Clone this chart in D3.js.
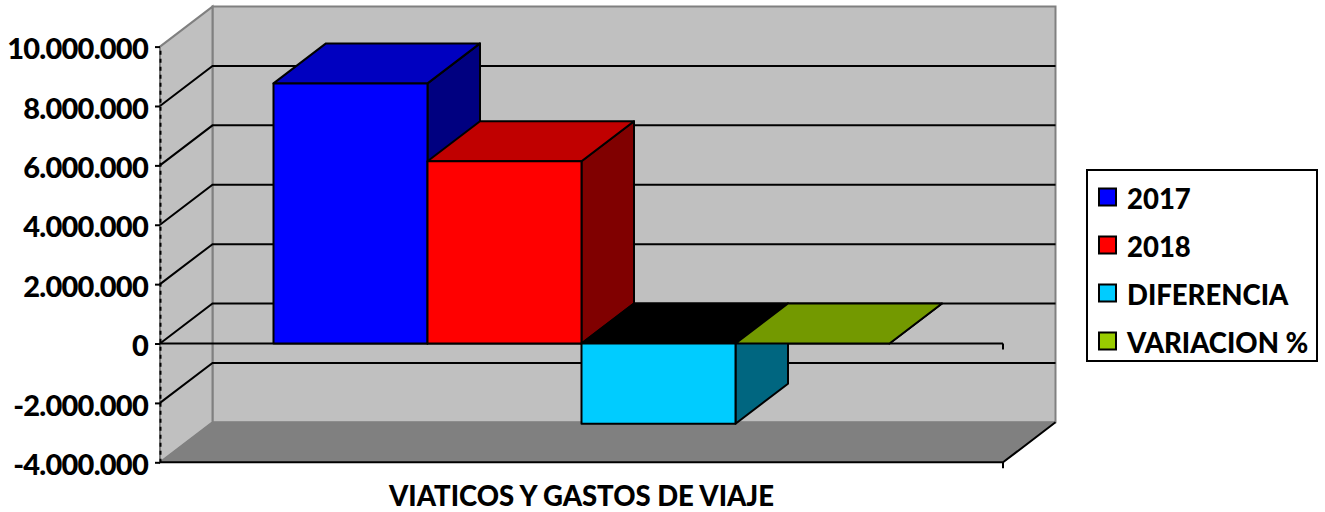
<!DOCTYPE html>
<html>
<head>
<meta charset="utf-8">
<script src="https://cdn.jsdelivr.net/npm/d3@7"></script>
<style>
  html, body { margin: 0; padding: 0; background: #fff; }
  text { font-family: Lato, "Open Sans", sans-serif; font-weight: 900; fill: #000; }
</style>
</head>
<body>
<div id="chart"></div>
<script>
// Data
var category = "VIATICOS Y GASTOS DE VIAJE";
var seriesNames = ["2017", "2018", "DIFERENCIA", "VARIACION %"];
var seriesValues = [8760000, 6140000, -2700000, 0];
var yTicks = [-4000000, -2000000, 0, 2000000, 4000000, 6000000, 8000000, 10000000];

// Face colours of each bar
var frontColors = ["#0000ff", "#ff0000", "#00ccff", "#99cc00"];
var topColors = ["#0000c0", "#c00000", "#000000", "#739900"];
var sideColors = ["#000080", "#800000", "#006680", "#4d6600"];

var width = 1325, height = 512;
var x0 = 160, x1 = 1003;          // front plane left / right
var depthX = 52.5, depthY = -40;  // 3D offset from front plane to back wall

var svg = d3.select("#chart").append("svg")
    .attr("width", width)
    .attr("height", height)
    .style("display", "block");

var y = d3.scaleLinear().domain([-4000000, 10000000]).range([462.3, 46.6]);
var x = d3.scaleBand().domain(seriesNames).range([x0, x1]).paddingInner(0).paddingOuter(0.737);

function poly(pts) { return pts.map(function(p) { return p.join(","); }).join(" "); }
function back(p) { return [p[0] + depthX, p[1] + depthY]; }

var yTop = y(10000000), yBot = y(-4000000), yZero = y(0);

// Walls
svg.append("polygon") // back wall
    .attr("points", poly([back([x0, yTop]), back([x1, yTop]), back([x1, yBot]), back([x0, yBot])]))
    .attr("fill", "#c0c0c0").attr("stroke", "#808080").attr("stroke-width", 2);
svg.append("polygon") // left wall
    .attr("points", poly([[x0, yTop], back([x0, yTop]), back([x0, yBot]), [x0, yBot]]))
    .attr("fill", "#c0c0c0").attr("stroke", "#808080").attr("stroke-width", 2);
svg.append("polygon") // floor
    .attr("points", poly([[x0, yBot], back([x0, yBot]), back([x1, yBot]), [x1, yBot]]))
    .attr("fill", "#808080").attr("stroke", "#808080").attr("stroke-width", 1);

// Gridlines across both walls
var gridTicks = yTicks.filter(function(t) { return t > -4000000 && t < 10000000; });
svg.append("g").selectAll("polyline")
    .data(gridTicks)
    .enter().append("polyline")
    .attr("points", function(d) { return poly([[x0, y(d)], back([x0, y(d)]), back([x1, y(d)])]); })
    .attr("fill", "none")
    .attr("stroke", "#000")
    .attr("stroke-width", 2);

// Floor front edge and its right side, zero line
svg.append("polyline")
    .attr("points", poly([[x0, yBot], [x1, yBot], back([x1, yBot])]))
    .attr("fill", "none").attr("stroke", "#000").attr("stroke-width", 2);
svg.append("line").attr("x1", x1).attr("x2", x1).attr("y1", yBot).attr("y2", yBot + 6)
    .attr("stroke", "#000").attr("stroke-width", 2);
svg.append("line").attr("x1", x0).attr("x2", x1).attr("y1", yZero).attr("y2", yZero)
    .attr("stroke", "#000").attr("stroke-width", 2);
svg.append("line").attr("x1", x1).attr("x2", x1).attr("y1", yZero).attr("y2", yZero + 6)
    .attr("stroke", "#000").attr("stroke-width", 2);

// Bars: front, side and top faces
var bars = svg.append("g").selectAll("g")
    .data(seriesValues)
    .enter().append("g")
    .attr("stroke", "#000")
    .attr("stroke-width", 2)
    .attr("stroke-linejoin", "round");

function barCorners(d, i) {
  var l = x(seriesNames[i]), r = l + x.bandwidth();
  return { l: l, r: r, t: y(Math.max(d, 0)), b: y(Math.min(d, 0)) };
}
bars.append("polygon") // side
    .attr("fill", function(d, i) { return sideColors[i]; })
    .attr("points", function(d, i) {
      var c = barCorners(d, i);
      return poly([[c.r, c.t], back([c.r, c.t]), back([c.r, c.b]), [c.r, c.b]]);
    });
bars.append("polygon") // top
    .attr("fill", function(d, i) { return topColors[i]; })
    .attr("points", function(d, i) {
      var c = barCorners(d, i);
      return poly([[c.l, c.t], back([c.l, c.t]), back([c.r, c.t]), [c.r, c.t]]);
    });
bars.append("rect") // front
    .attr("fill", function(d, i) { return frontColors[i]; })
    .attr("x", function(d, i) { return barCorners(d, i).l; })
    .attr("y", function(d, i) { return barCorners(d, i).t; })
    .attr("width", x.bandwidth())
    .attr("height", function(d, i) { var c = barCorners(d, i); return c.b - c.t; });

// Y axis with dotted thousands and a plain hyphen for negatives
var locale = d3.formatLocale({ decimal: ",", thousands: ".", grouping: [3], currency: ["", ""], minus: "-" });
var yAxis = d3.axisLeft(y).tickValues(yTicks).tickFormat(locale.format(",")).tickSize(5).tickSizeOuter(0).tickPadding(7);
var axisG = svg.append("g").attr("transform", "translate(" + x0 + ",0)").call(yAxis);
axisG.select(".domain").attr("stroke", "#000").attr("stroke-width", 2).attr("stroke-dasharray", "4 4");
axisG.selectAll(".tick line").attr("stroke", "#000").attr("stroke-width", 2);
axisG.selectAll(".tick text")
    .attr("font-size", 29)
    .attr("dy", "0.42em")
    .attr("letter-spacing", -0.75)
    .style("font-family", "Lato")
    .style("font-weight", 900)
    .attr("fill", "#000");

// Category label
svg.append("text")
    .attr("x", 581.5).attr("y", 506)
    .attr("text-anchor", "middle")
    .attr("font-size", 27.5)
    .text(category);

// Legend
var legend = svg.append("g");
legend.append("rect")
    .attr("x", 1087).attr("y", 170).attr("width", 230).attr("height", 191)
    .attr("fill", "#fff").attr("stroke", "#000").attr("stroke-width", 2);
var legendY = d3.scalePoint().domain(seriesNames).range([197.5, 341.5]);
var rows = legend.selectAll("g").data(seriesNames).enter().append("g")
    .attr("transform", function(d) { return "translate(0," + legendY(d) + ")"; });
rows.append("rect")
    .attr("x", 1099).attr("y", -9).attr("width", 17).attr("height", 17)
    .attr("fill", function(d, i) { return frontColors[i]; })
    .attr("stroke", "#000").attr("stroke-width", 2);
rows.append("text")
    .attr("x", 1127).attr("y", 11)
    .attr("font-size", 27.5)
    .text(function(d) { return d; });
</script>
</body>
</html>
